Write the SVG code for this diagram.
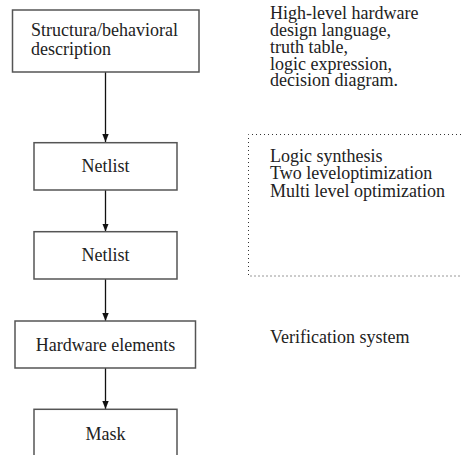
<svg xmlns="http://www.w3.org/2000/svg" width="461" height="455" viewBox="0 0 461 455">
<defs>
<marker id="arr" markerWidth="8" markerHeight="10" refX="10" refY="4" orient="auto" markerUnits="userSpaceOnUse" viewBox="0 0 10 8">
<path d="M0,0 L10,4 L0,8 Z" fill="#111"/>
</marker>
<style>
.box{fill:#fff;stroke:#555;stroke-width:1.5}
.c{text-anchor:middle}
.edge{stroke:#111;stroke-width:1.3;fill:none;marker-end:url(#arr)}
.dot{fill:none;stroke:#333;stroke-width:1;stroke-dasharray:1 3}
</style>
</defs>
<rect width="461" height="455" fill="#fff"/>
<g id="connectors">
<line class="edge" x1="105.5" y1="72" x2="105.5" y2="142"/>
<line class="edge" x1="105.5" y1="190" x2="105.5" y2="231.5"/>
<line class="edge" x1="105.5" y1="279" x2="105.5" y2="321"/>
<line class="edge" x1="105.5" y1="368" x2="105.5" y2="409"/>
</g>
<g font-family="'Liberation Serif', 'Times New Roman', serif" font-size="18" fill="#222">
<g id="n1">
<rect class="box" x="12.5" y="10" width="186.5" height="62"/>
<text x="31" y="36">Structura/behavioral</text>
<text x="31" y="55">description</text>
</g>
<g id="n2">
<rect class="box" x="34" y="142.7" width="143" height="47.3"/>
<text class="c" x="105.5" y="172">Netlist</text>
</g>
<g id="n3">
<rect class="box" x="34" y="231.7" width="143" height="47.3"/>
<text class="c" x="105.5" y="261">Netlist</text>
</g>
<g id="n4">
<rect class="box" x="15" y="321" width="180.5" height="47"/>
<text class="c" x="105.5" y="351">Hardware elements</text>
</g>
<g id="n5">
<rect class="box" x="34" y="409.3" width="143" height="50"/>
<text class="c" x="105.5" y="440">Mask</text>
</g>
<g id="desc">
<text x="270" y="19">High-level hardware</text>
<text x="270" y="36">design language,</text>
<text x="270" y="52.5">truth table,</text>
<text x="270" y="69.5">logic expression,</text>
<text x="270" y="86">decision diagram.</text>
</g>
<g id="synth">
<path class="dot" d="M465,134.5 H248.5 V276 H465"/>
<text x="270" y="161.5">Logic synthesis</text>
<text x="270" y="179">Two leveloptimization</text>
<text x="270" y="196.5">Multi level optimization</text>
</g>
<g id="verif">
<text x="270" y="343">Verification system</text>
</g>
</g>
</svg>
